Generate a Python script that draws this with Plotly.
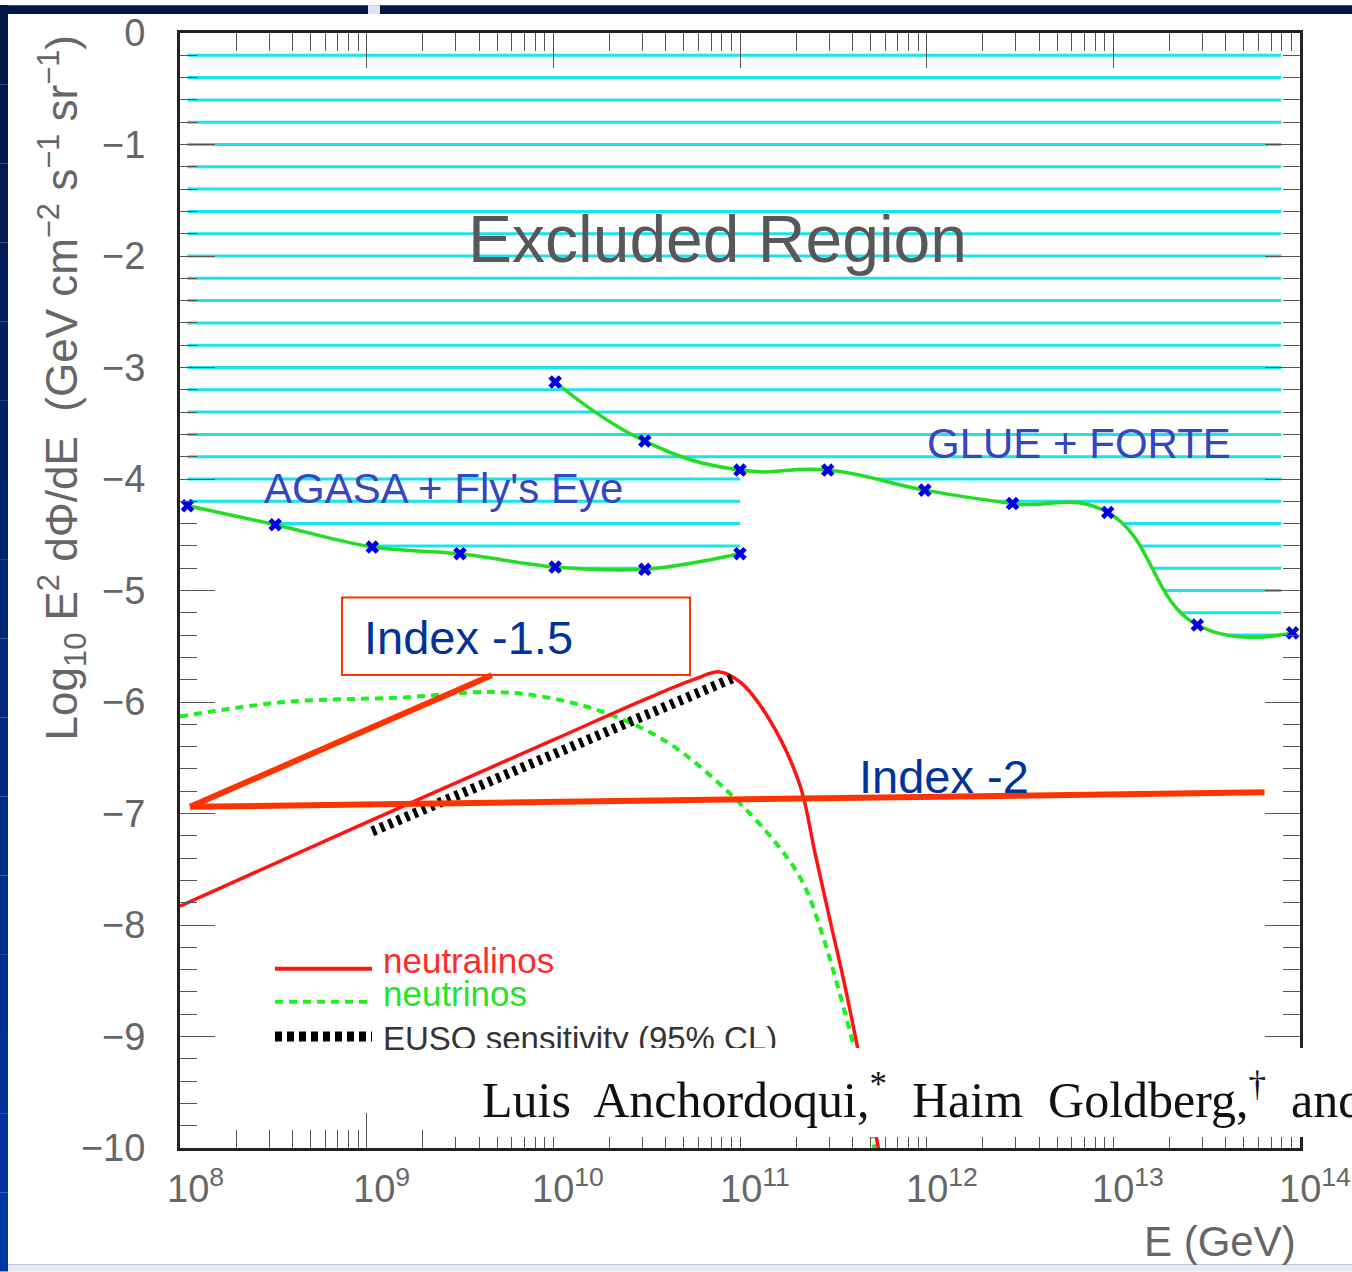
import numpy as np
import plotly.graph_objects as go

# ---------------- data (log10 E [GeV], log10 E^2 dPhi/dE) ----------------
AGASA_LOG_E = [8.04, 8.51, 9.03, 9.50, 10.01, 10.49, 11.00]
AGASA_FLUX = [-4.24, -4.41, -4.61, -4.67, -4.79, -4.81, -4.67]

GLUE_LOG_E = [10.01, 10.49, 11.00, 11.47, 11.99, 12.46, 12.97, 13.45, 13.96]
GLUE_FLUX = [-3.13, -3.66, -3.92, -3.92, -4.10, -4.22, -4.30, -5.31, -5.38]

NEUTRALINO_LOG_E = [8.0, 9.0, 10.0, 10.5, 10.75, 10.89, 11.0, 11.155, 11.32,
                    11.40, 11.48, 11.56, 11.63, 11.74, 11.77]
NEUTRALINO_FLUX = [-7.83, -7.08, -6.34, -5.97, -5.80, -5.73, -5.82, -6.15, -6.74,
                   -7.34, -7.94, -8.53, -9.10, -9.99, -10.3]

NEUTRINO_LOG_E = [8.0, 8.56, 9.18, 9.69, 10.0, 10.30, 10.61, 10.92, 11.20,
                  11.34, 11.44, 11.52, 11.61, 11.72, 11.75]
NEUTRINO_FLUX = [-6.13, -6.00, -5.96, -5.91, -5.97, -6.11, -6.36, -6.78, -7.28,
                 -7.63, -8.08, -8.53, -9.10, -10.0, -10.3]

EUSO_LOG_E = [9.03, 10.97]
EUSO_FLUX = [-7.16, -5.78]

INDEX_15_LOG_E = [8.054, 9.67]
INDEX_15_FLUX = [-6.94, -5.76]
INDEX_2_LOG_E = [8.054, 13.81]
INDEX_2_FLUX = [-6.94, -6.81]

Y_TICKS = [0, -1, -2, -3, -4, -5, -6, -7, -8, -9, -10]
Y_TICK_TEXT = ["0", "\u22121", "\u22122", "\u22123", "\u22124", "\u22125",
               "\u22126", "\u22127", "\u22128", "\u22129", "\u221210"]
X_DECADES = [8, 9, 10, 11, 12, 13, 14]
X_TICK_TEXT = ["10<sup>8</sup>", "10<sup>9</sup>", "10<sup>10</sup>", "10<sup>11</sup>",
               "10<sup>12</sup>", "10<sup>13</sup>", "10<sup>14</sup>"]

# hatching of the excluded region (decoration)
HATCH_LEVELS = [round(-0.2 * k, 1) for k in range(1, 28)]
HATCH_LOG_E = [8.04, 13.90]
MASK_FLOOR = -10.5


def E(v):
    return list(np.power(10.0, np.array(v, dtype=float)))


# ---------------- geometry helpers (pixel -> paper) ----------------
W, H = 1352, 1272
ML, MR, MT, MB = 180, 52, 28, 124
PW, PH = W - ML - MR, H - MT - MB


def px(x):
    return (x - ML) / PW


def py(y):
    return (H - MB - y) / PH


fig = go.Figure()

# hatch lines
hx, hy = [], []
for lv in HATCH_LEVELS:
    hx += E(HATCH_LOG_E) + [None]
    hy += [lv, lv, None]
fig.add_trace(go.Scatter(x=hx, y=hy, mode="lines",
                         line=dict(color="#19e3ee", width=3), hoverinfo="skip"))

# white masks below the limit curves
fig.add_trace(go.Scatter(x=E([AGASA_LOG_E[0], AGASA_LOG_E[-1]]), y=[MASK_FLOOR, MASK_FLOOR],
                         mode="lines", line=dict(width=0), hoverinfo="skip"))
fig.add_trace(go.Scatter(x=E(AGASA_LOG_E), y=AGASA_FLUX, mode="lines",
                         line=dict(width=0, shape="spline", smoothing=1.0),
                         fill="tonexty", fillcolor="white", hoverinfo="skip"))
fig.add_trace(go.Scatter(x=E([GLUE_LOG_E[2], GLUE_LOG_E[-1]]), y=[MASK_FLOOR, MASK_FLOOR],
                         mode="lines", line=dict(width=0), hoverinfo="skip"))
fig.add_trace(go.Scatter(x=E(GLUE_LOG_E[2:]), y=GLUE_FLUX[2:], mode="lines",
                         line=dict(width=0, shape="spline", smoothing=1.3),
                         fill="tonexty", fillcolor="white", hoverinfo="skip"))

# model curves
fig.add_trace(go.Scatter(x=E(NEUTRINO_LOG_E), y=NEUTRINO_FLUX, mode="lines",
                         line=dict(color="#1ef01e", width=4, dash="8px,6px",
                                   shape="spline", smoothing=1.0)))
fig.add_trace(go.Scatter(x=E(NEUTRALINO_LOG_E), y=NEUTRALINO_FLUX, mode="lines",
                         line=dict(color="#ff1414", width=3.5, shape="spline", smoothing=1.0)))
fig.add_trace(go.Scatter(x=E(EUSO_LOG_E), y=EUSO_FLUX, mode="lines",
                         line=dict(color="#000000", width=10, dash="4px,5px")))

# experimental limits
fig.add_trace(go.Scatter(x=E(AGASA_LOG_E), y=AGASA_FLUX, mode="lines+markers",
                         line=dict(color="#22dd22", width=3.5, shape="spline", smoothing=1.0),
                         marker=dict(symbol="x", size=12, color="#0000e6")))
fig.add_trace(go.Scatter(x=E(GLUE_LOG_E), y=GLUE_FLUX, mode="lines+markers",
                         line=dict(color="#22dd22", width=3.5, shape="spline", smoothing=1.3),
                         marker=dict(symbol="x", size=12, color="#0000e6")))

# spectral index guide lines
fig.add_trace(go.Scatter(x=E(INDEX_15_LOG_E), y=INDEX_15_FLUX, mode="lines",
                         line=dict(color="#ff3300", width=6)))
fig.add_trace(go.Scatter(x=E(INDEX_2_LOG_E), y=INDEX_2_FLUX, mode="lines",
                         line=dict(color="#ff3300", width=6)))

axis_common = dict(showline=True, linewidth=3, linecolor="#222222", mirror="allticks",
                   ticks="inside", ticklen=35, tickwidth=1, tickcolor="#555555",
                   showgrid=False, zeroline=False)

fig.update_xaxes(type="log", range=[8, 14], tickvals=E(X_DECADES), showticklabels=False,
                 minor=dict(ticks="inside", ticklen=18, tickwidth=1, tickcolor="#555555",
                            tickvals=[k * 10.0 ** d for d in X_DECADES[:-1] for k in range(2, 10)],
                            showgrid=False),
                 **axis_common)
fig.update_yaxes(range=[-10, 0], tickvals=Y_TICKS, ticktext=Y_TICK_TEXT,
                 tickfont=dict(family="Liberation Sans", size=38, color="#666666"),
                 ticklabelstandoff=24,
                 minor=dict(ticks="inside", ticklen=17, tickwidth=1, tickcolor="#555555",
                            dtick=0.2, showgrid=False),
                 **axis_common)

shapes = []
# slide background pieces
steps = 16
c0, c1 = np.array([0x00, 0x18, 0x48]), np.array([0x00, 0x35, 0xa6])
for i in range(steps):
    c = (c0 + (c1 - c0) * i / (steps - 1)).astype(int)
    y0 = H * i / steps
    y1 = H * (i + 1) / steps
    shapes.append(dict(type="rect", xref="paper", yref="paper", x0=px(0), x1=px(8),
                       y0=py(y1), y1=py(y0), line=dict(width=0),
                       fillcolor="rgb(%d,%d,%d)" % tuple(c), layer="above"))
shapes.append(dict(type="rect", xref="paper", yref="paper", x0=px(0), x1=px(W), y0=py(9), y1=py(0),
                   line=dict(width=0), fillcolor="#001848", layer="above"))
shapes.append(dict(type="rect", xref="paper", yref="paper", x0=px(368), x1=px(380), y0=py(9), y1=py(0),
                   line=dict(width=0), fillcolor="#dde2f6", layer="above"))
shapes.append(dict(type="rect", xref="paper", yref="paper", x0=px(8), x1=px(W), y0=py(H), y1=py(1265),
                   line=dict(width=0), fillcolor="#e7ebf1", layer="above"))
shapes.append(dict(type="line", xref="paper", yref="paper", x0=px(8), x1=px(W), y0=py(1265), y1=py(1265),
                   line=dict(width=1, color="#bcc6d6"), layer="above"))
# "Index -1.5" box
shapes.append(dict(type="rect", xref="paper", yref="paper", x0=px(342), x1=px(690), y0=py(673), y1=py(595),
                   line=dict(width=2, color="#ff3300"), fillcolor="rgba(0,0,0,0)", layer="above"))
# legend samples
shapes.append(dict(type="line", xref="paper", yref="paper", x0=px(275), x1=px(372), y0=py(968), y1=py(968),
                   line=dict(width=4, color="#ff1414"), layer="above"))
shapes.append(dict(type="line", xref="paper", yref="paper", x0=px(275), x1=px(372), y0=py(1001), y1=py(1001),
                   line=dict(width=4, color="#1ef01e", dash="8px,6px"), layer="above"))
shapes.append(dict(type="line", xref="paper", yref="paper", x0=px(275), x1=px(372), y0=py(1036), y1=py(1036),
                   line=dict(width=10, color="#000000", dash="7px,5px"), layer="above"))

ann = []
SANS = "Liberation Sans"
for d, t in zip(X_DECADES, X_TICK_TEXT):
    ann.append(dict(x=d, xref="x", y=py(1186), yref="paper", text=t, showarrow=False,
                    xanchor="center", yanchor="middle", xshift=15,
                    font=dict(family=SANS, size=38, color="#666666")))
ann.append(dict(x=px(1298), y=py(1242), xref="paper", yref="paper", text="E (GeV)", showarrow=False,
                xanchor="right", yanchor="middle", font=dict(family=SANS, size=42, color="#666666")))
ann.append(dict(x=px(62), y=py(385), xref="paper", yref="paper", textangle=-90, showarrow=False,
                text="Log<sub>10</sub> E<sup>2</sup> d\u03a6/dE \u00a0(GeV cm<sup>\u22122</sup> s<sup>\u22121</sup> sr<sup>\u22121</sup>)",
                xanchor="center", yanchor="middle", font=dict(family=SANS, size=44, color="#666666")))
ann.append(dict(x=px(717), y=py(235), xref="paper", yref="paper", text="Excluded Region", showarrow=False,
                xanchor="center", yanchor="middle", font=dict(family=SANS, size=66, color="#585858")))
ann.append(dict(x=px(262), y=py(486), xref="paper", yref="paper", text="AGASA + Fly's Eye", showarrow=False,
                xanchor="left", yanchor="middle", font=dict(family=SANS, size=42, color="#3447c0")))
ann.append(dict(x=px(925), y=py(440), xref="paper", yref="paper", text="GLUE + FORTE", showarrow=False,
                xanchor="left", yanchor="middle", font=dict(family=SANS, size=42, color="#3447c0")))
ann.append(dict(x=px(362), y=py(635), xref="paper", yref="paper", text="Index -1.5", showarrow=False,
                xanchor="left", yanchor="middle", font=dict(family=SANS, size=47, color="#003399")))
ann.append(dict(x=px(857), y=py(775), xref="paper", yref="paper", text="Index -2", showarrow=False,
                xanchor="left", yanchor="middle", font=dict(family=SANS, size=47, color="#003399")))
ann.append(dict(x=px(381), y=py(960), xref="paper", yref="paper", text="neutralinos", showarrow=False,
                xanchor="left", yanchor="middle", font=dict(family=SANS, size=35, color="#ff2a2a")))
ann.append(dict(x=px(381), y=py(993), xref="paper", yref="paper", text="neutrinos", showarrow=False,
                xanchor="left", yanchor="middle", font=dict(family=SANS, size=35, color="#22e622")))
ann.append(dict(x=px(381), y=py(1038), xref="paper", yref="paper", text="EUSO sensitivity (95% CL)",
                showarrow=False, xanchor="left", yanchor="middle",
                font=dict(family=SANS, size=33, color="#333333")))
# pasted white box with author line
ann.append(dict(x=px(455), y=py(1048), xref="paper", yref="paper", text="\u00a0", showarrow=False,
                xanchor="left", yanchor="top", width=W - 455, height=89, bgcolor="white",
                borderpad=0, borderwidth=0, font=dict(size=10)))
ann.append(dict(x=px(480), y=py(1096), xref="paper", yref="paper",
                text="Luis\u00a0 Anchordoqui,<sup>*</sup>\u00a0 Haim\u00a0 Goldberg,<sup>\u2020</sup>\u00a0 and",
                showarrow=False, xanchor="left", yanchor="middle",
                font=dict(family="Liberation Serif", size=50, color="#111111")))

fig.update_layout(width=W, height=H, margin=dict(l=ML, r=MR, t=MT, b=MB, pad=0),
                  paper_bgcolor="white", plot_bgcolor="white", showlegend=False,
                  shapes=shapes, annotations=ann)

fig.write_html("out.html", config={"displayModeBar": False},
               post_script="document.body.style.margin='0';document.body.style.overflow='hidden';")
